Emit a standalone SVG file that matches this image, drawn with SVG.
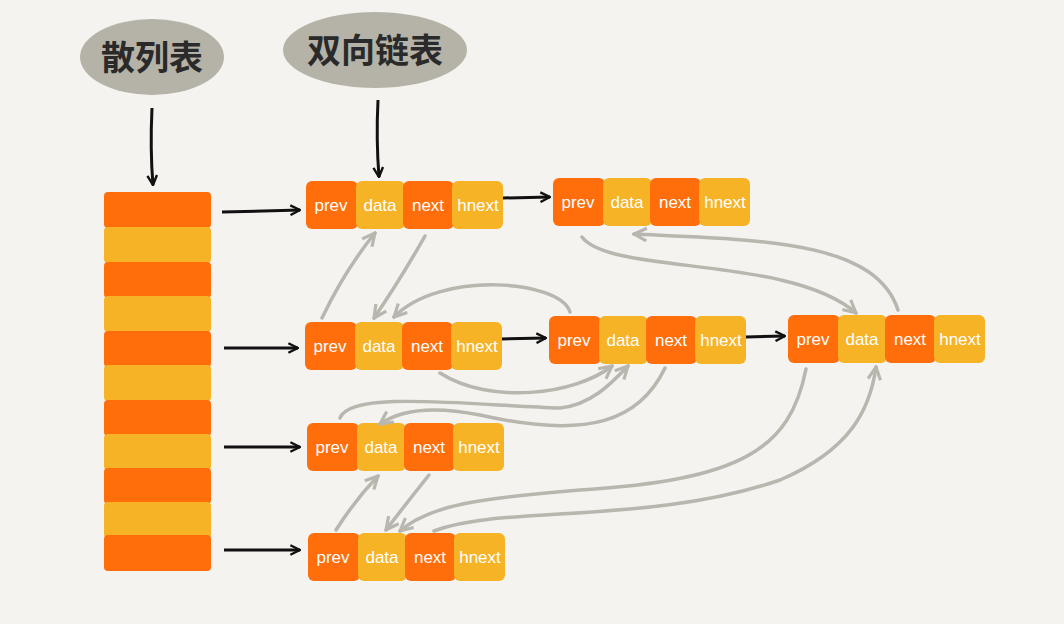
<svg xmlns="http://www.w3.org/2000/svg" width="1064" height="624" viewBox="0 0 1064 624">
<style>
.o{fill:#FF6E0A}.y{fill:#F6B325}
.t{font-family:"Liberation Sans",sans-serif;font-size:17px;fill:#fff;text-anchor:middle}
.b{font-family:"Noto Sans CJK SC",sans-serif;font-size:34px;font-weight:bold;fill:#2a2a2a;text-anchor:middle}
.k{stroke:#111;stroke-width:3;fill:none;marker-end:url(#ka)}
.g{stroke:#B8B6AE;stroke-width:3.5;fill:none;stroke-linecap:round;marker-end:url(#ga)}
</style>
<defs>
<marker id="ka" viewBox="0 0 10 10" refX="9" refY="5" markerWidth="4" markerHeight="4" orient="auto" markerUnits="strokeWidth"><path d="M1,1 L9,5 L1,9" fill="none" stroke="#111" stroke-width="2"/></marker>
<marker id="ga" viewBox="0 0 10 10" refX="9" refY="5" markerWidth="4.5" markerHeight="4.5" orient="auto" markerUnits="strokeWidth"><path d="M1,1 L9,5 L1,9" fill="none" stroke="#B8B6AE" stroke-width="2"/></marker>
<g id="node">
<rect class="o" x="0" y="0" width="52" height="48" rx="6"/>
<rect class="y" x="50" y="0" width="49" height="48" rx="6"/>
<rect class="o" x="97" y="0" width="51" height="48" rx="6"/>
<rect class="y" x="146" y="0" width="51" height="48" rx="6"/>
<text class="t" x="25" y="30">prev</text>
<text class="t" x="74" y="30">data</text>
<text class="t" x="122" y="30">next</text>
<text class="t" x="172" y="30">hnext</text>
</g>
</defs>
<rect width="1064" height="624" fill="#F4F3EF"/>
<g id="bubble1"><ellipse cx="152" cy="57" rx="72" ry="38" fill="#B5B2A8"/><text class="b" x="152" y="70">散列表</text></g>
<g id="bubble2"><ellipse cx="375" cy="50" rx="92" ry="38" fill="#B5B2A8"/><text class="b" x="375" y="63">双向链表</text></g>
<g id="hashtable">
<rect class="o" x="104" y="192" width="107" height="36" rx="4"/>
<rect class="y" x="104" y="227" width="107" height="36" rx="4"/>
<rect class="o" x="104" y="262" width="107" height="36" rx="4"/>
<rect class="y" x="104" y="296" width="107" height="36" rx="4"/>
<rect class="o" x="104" y="331" width="107" height="36" rx="4"/>
<rect class="y" x="104" y="365" width="107" height="36" rx="4"/>
<rect class="o" x="104" y="400" width="107" height="36" rx="4"/>
<rect class="y" x="104" y="434" width="107" height="36" rx="4"/>
<rect class="o" x="104" y="468" width="107" height="36" rx="4"/>
<rect class="y" x="104" y="502" width="107" height="36" rx="4"/>
<rect class="o" x="104" y="535" width="107" height="36" rx="4"/>
</g>
<g id="nA" transform="translate(306,181)"><use href="#node"/></g>
<g id="nB" transform="translate(553,178)"><use href="#node"/></g>
<g id="nC" transform="translate(305,322)"><use href="#node"/></g>
<g id="nD" transform="translate(549,316)"><use href="#node"/></g>
<g id="nE" transform="translate(788,315)"><use href="#node"/></g>
<g id="nF" transform="translate(307,423)"><use href="#node"/></g>
<g id="nG" transform="translate(308,533)"><use href="#node"/></g>
<g id="connectors">
<path class="k" d="M152,108 Q150,150 153,185"/>
<path class="k" d="M378,100 Q376,140 379,177"/>
<path class="k" d="M222,212 L300,210"/>
<path class="k" d="M224,348 L298,348"/>
<path class="k" d="M224,447 L300,447"/>
<path class="k" d="M224,550 L300,550"/>
<path class="k" d="M503,198 L550,197"/>
<path class="k" d="M502,339 L546,338"/>
<path class="k" d="M746,337 L785,336"/>
<path class="g" d="M322,318 Q345,270 375,233"/>
<path class="g" d="M425,236 Q400,280 374,318"/>
<path class="g" d="M570,312 C560,280 440,270 394,317"/>
<path class="g" d="M582,237 C610,275 790,255 856,313"/>
<path class="g" d="M898,310 C875,240 760,240 634,234"/>
<path class="g" d="M440,373 C490,405 575,395 612,366"/>
<path class="g" d="M340,418 C350,390 470,405 560,408 C590,405 610,385 628,366"/>
<path class="g" d="M665,368 C640,420 590,440 480,415 C430,405 400,410 380,424"/>
<path class="g" d="M336,530 Q355,500 378,476"/>
<path class="g" d="M429,475 Q405,505 386,530"/>
<path class="g" d="M806,369 C790,450 740,480 580,490 C480,498 430,505 400,531"/>
<path class="g" d="M434,531 C500,505 650,525 780,480 C850,450 870,410 876,367"/>
</g>
</svg>
